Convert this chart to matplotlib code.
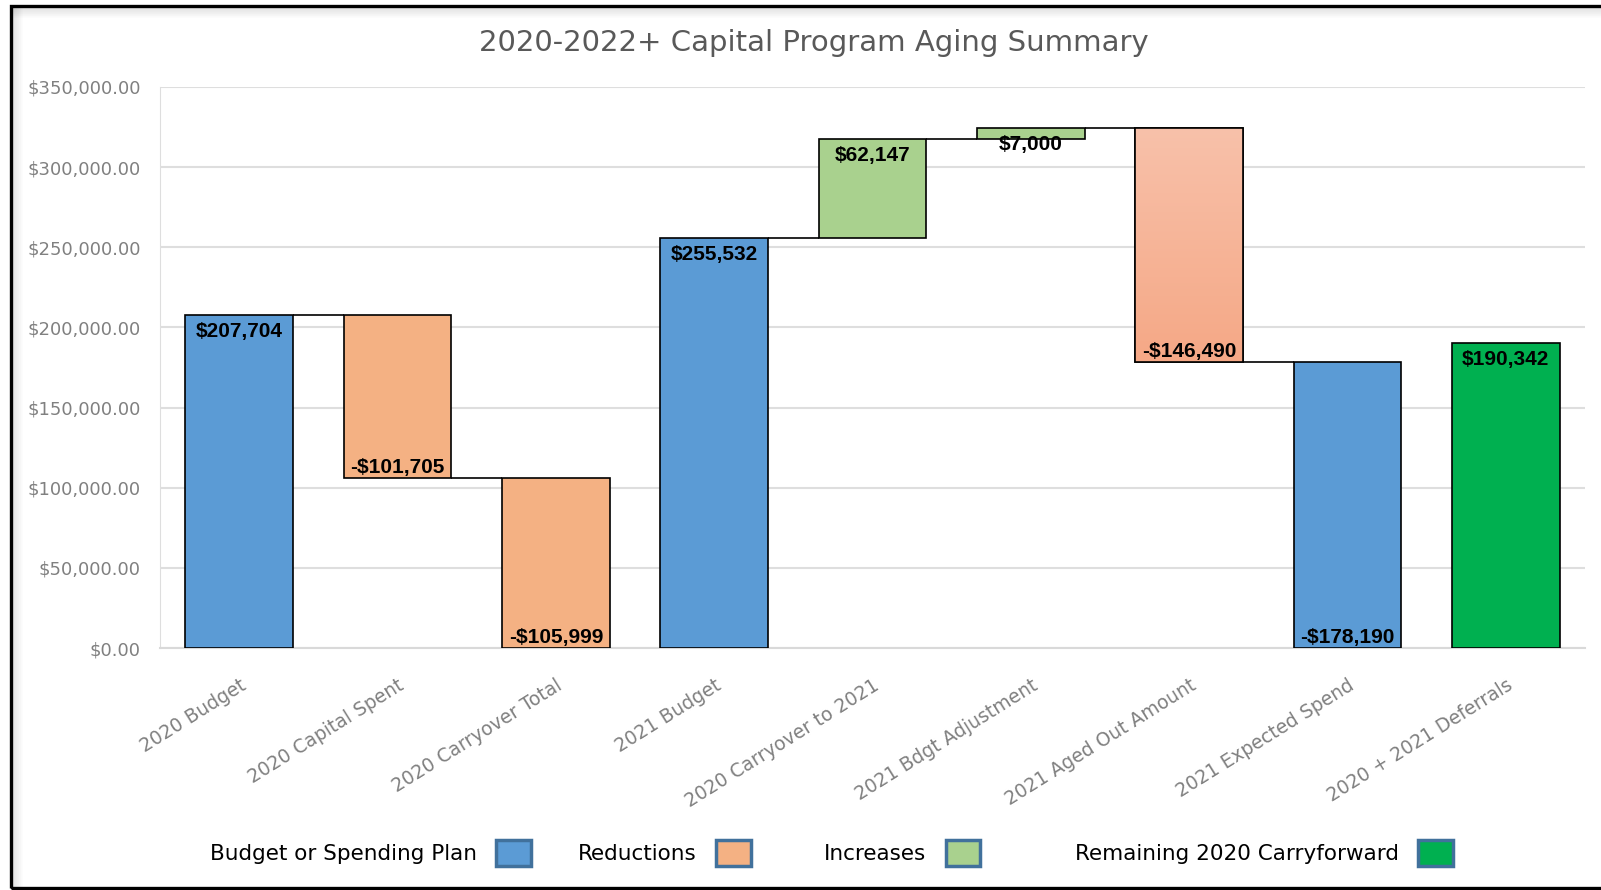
import matplotlib.pyplot as plt
from matplotlib.patches import Patch, Rectangle
from matplotlib.lines import Line2D
from matplotlib.colors import LinearSegmentedColormap
from matplotlib.ticker import MultipleLocator, FuncFormatter
import numpy as np

# Datos del grafico
categorias = ['2020 Budget', '2020 Capital Spent', '2020 Carryover Total', '2021 Budget',
              '2020 Carryover to 2021', '2021 Bdgt Adjustment', '2021 Aged Out Amount',
              '2021 Expected Spend', '2020 + 2021 Deferrals']
base   = [0, 105999, 0, 0, 255532, 317679, 178189, 0, 0]
altura = [207704, 101705, 105999, 255532, 62147, 7000, 146490, 178190, 190342]
etiquetas = ['$207,704', '-$101,705', '-$105,999', '$255,532', '$62,147',
             '$7,000', '-$146,490', '-$178,190', '$190,342']
tipo = [0, 1, 1, 0, 2, 2, 1, 0, 3]
pos_etiqueta = ['top', 'bottom', 'bottom', 'top', 'top', 'top', 'bottom', 'bottom', 'top']
conectores = [(0, 207704), (1, 105999), (3, 255532), (4, 317679), (5, 324679), (6, 178189)]

nombres_leyenda = ['Budget or Spending Plan', 'Reductions', 'Increases', 'Remaining 2020 Carryforward']
colores = ['#5B9BD5', '#F4B183', '#A9D18E', '#00B050']

# -------------------------------

fig = plt.figure(figsize=(16.01, 8.90), dpi=100)
ax = fig.add_axes([160/1601, 1-648/890, 1425/1601, (648-87)/890])

x = np.arange(len(categorias))
w = 0.68
barras = ax.bar(x, altura, bottom=base, width=w,
                color=[colores[t] for t in tipo], edgecolor='black', linewidth=1.2, zorder=3)

# degradado de la barra "Aged Out"
b = barras[6]
grad = np.linspace(0, 1, 100).reshape(-1, 1)
cmap = LinearSegmentedColormap.from_list('naranja', ['#F5A886', '#F8C1AA'])
im = ax.imshow(grad, cmap=cmap, aspect='auto', origin='lower', zorder=3.5,
               extent=[b.get_x(), b.get_x()+w, base[6], base[6]+altura[6]])
im.set_clip_path(b)
ax.bar(x[6], altura[6], bottom=base[6], width=w, facecolor='none',
       edgecolor='black', linewidth=1.2, zorder=4)

for i, y in conectores:
    ax.hlines(y, i + w/2, i + 1 - w/2, color='black', linewidth=1.2, zorder=2)

for i in range(len(x)):
    if pos_etiqueta[i] == 'top':
        ax.annotate(etiquetas[i], (x[i], base[i]+altura[i]), xytext=(0, -5), textcoords='offset points',
                    ha='center', va='top', fontsize=15, fontweight='bold',
                    family=['Liberation Sans', 'DejaVu Sans'], zorder=5)
    else:
        ax.annotate(etiquetas[i], (x[i], base[i]), xytext=(0, 1), textcoords='offset points',
                    ha='center', va='bottom', fontsize=15, fontweight='bold',
                    family=['Liberation Sans', 'DejaVu Sans'], zorder=5)

ax.set_xlim(-0.5, len(x)-0.5)
ax.set_ylim(0, 350000)
ax.yaxis.set_major_locator(MultipleLocator(50000))
ax.yaxis.set_major_formatter(FuncFormatter(lambda v, p: '${:,.2f}'.format(v)))
ax.grid(axis='y', color='#DEDEDE', linewidth=1.5, zorder=0)
ax.set_axisbelow(True)
for s in ['top', 'right']:
    ax.spines[s].set_visible(False)
ax.spines['left'].set_color('#DEDEDE')
ax.spines['bottom'].set_color('#D9D9D9')
ax.spines['bottom'].set_linewidth(1.5)
ax.tick_params(axis='both', length=0, colors='#808080', labelsize=13)
ax.tick_params(axis='y', pad=14)
ax.set_xticks(x)
ax.set_xticklabels(categorias, rotation=32, ha='right', rotation_mode='anchor', fontsize=13.5)
ax.tick_params(axis='x', pad=20)

fig.text(814/1601, 1-43/890, '2020-2022+ Capital Program Aging Summary', ha='center', va='center',
         fontsize=21, color='#595959')

# leyenda: una por entrada para respetar el espaciado original
x_leyenda = [210, 578, 824, 1075]
for c, nombre, xl in zip(colores, nombres_leyenda, x_leyenda):
    h = Patch(facecolor=c, edgecolor='#41719C', linewidth=2.5)
    fig.legend([h], [nombre], loc='center left', bbox_to_anchor=(xl/1601, 1-853/890),
               frameon=False, markerfirst=False, fontsize=15.5, handlelength=1.6, handleheight=1.45,
               handletextpad=0.9, borderpad=0, borderaxespad=0)

# marco exterior con sombra suave
for k in range(10):
    a = 0.10 * (1 - k/10)
    fig.add_artist(Line2D([(13+k)/1601]*2, [2/890, 1-7/890], transform=fig.transFigure,
                          color='black', alpha=a, linewidth=0.8))
    fig.add_artist(Line2D([12/1601, 1], [1-(8+k)/890]*2, transform=fig.transFigure,
                          color='black', alpha=a, linewidth=0.8))
fig.patches.append(Rectangle((10.5/1601, 2/890), 1.2, 1-8/890, transform=fig.transFigure,
                             fill=False, edgecolor='black', linewidth=2.4))

fig.savefig('out.png', dpi=100)
